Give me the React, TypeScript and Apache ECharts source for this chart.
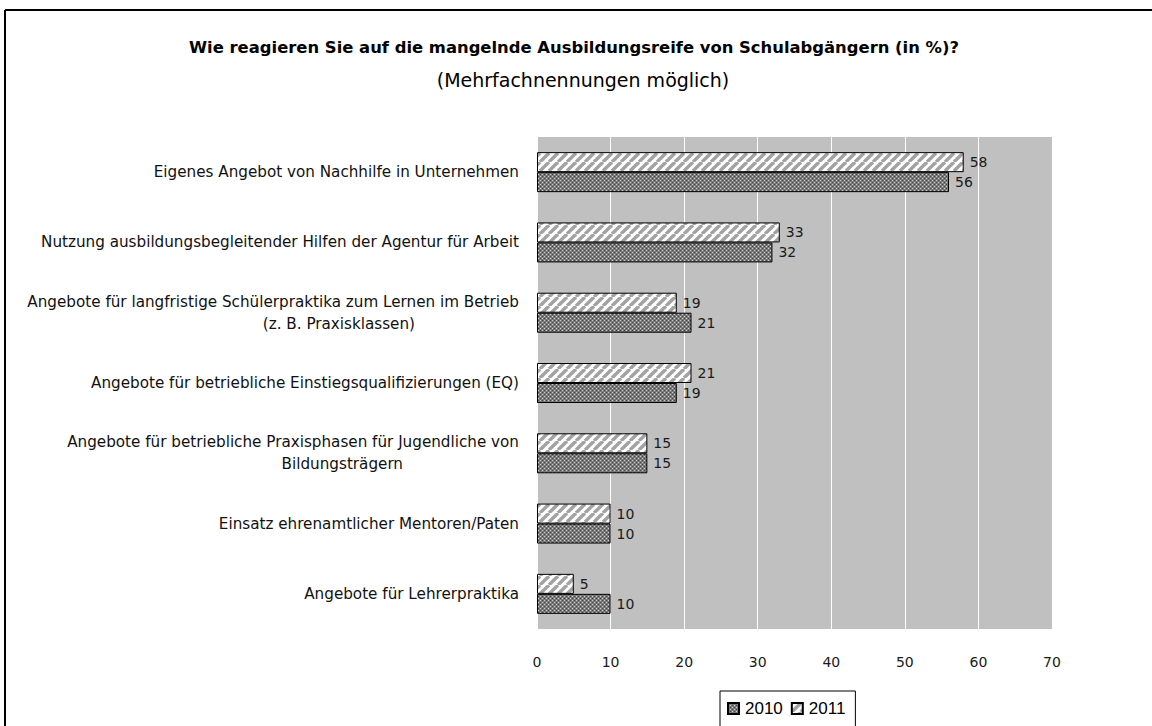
import React, { useEffect, useRef } from "react";
import * as echarts from "echarts";

const categories: string[] = [
  "Eigenes Angebot von Nachhilfe in Unternehmen",
  "Nutzung ausbildungsbegleitender Hilfen der Agentur für Arbeit",
  "Angebote für langfristige Schülerpraktika zum Lernen im Betrieb\n(z. B. Praxisklassen)",
  "Angebote für betriebliche Einstiegsqualifizierungen (EQ)",
  "Angebote für betriebliche Praxisphasen für Jugendliche von\nBildungsträgern",
  "Einsatz ehrenamtlicher Mentoren/Paten",
  "Angebote für Lehrerpraktika",
];
const values2010: number[] = [56, 32, 21, 19, 15, 10, 10];
const values2011: number[] = [58, 33, 19, 21, 15, 10, 5];
const seriesNames: string[] = ["2010", "2011"];
const titleText = "Wie reagieren Sie auf die mangelnde Ausbildungsreife von Schulabgängern (in %)?";
const subtitleText = "(Mehrfachnennungen möglich)";

function makeHatch(): HTMLCanvasElement {
  const s = 9;
  const c = document.createElement("canvas");
  c.width = s;
  c.height = s;
  const ctx = c.getContext("2d")!;
  ctx.fillStyle = "#ffffff";
  ctx.fillRect(0, 0, s, s);
  ctx.strokeStyle = "#a2a2a2";
  ctx.lineWidth = 3.4;
  for (const o of [-s, 0, s]) {
    ctx.beginPath();
    ctx.moveTo(o, s);
    ctx.lineTo(o + s, 0);
    ctx.stroke();
  }
  return c;
}

function makeDots(): HTMLCanvasElement {
  const s = 4;
  const c = document.createElement("canvas");
  c.width = s;
  c.height = s;
  const ctx = c.getContext("2d")!;
  ctx.fillStyle = "#7a7a7a";
  ctx.fillRect(0, 0, s, s);
  ctx.fillStyle = "#d0d0d0";
  ctx.fillRect(0, 0, 1, 1);
  ctx.fillRect(2, 2, 1, 1);
  ctx.fillStyle = "#444444";
  ctx.fillRect(2, 0, 1, 1);
  ctx.fillRect(0, 2, 1, 1);
  return c;
}

export default function App() {
  const ref = useRef<HTMLDivElement>(null);
  useEffect(() => {
    document.body.style.margin = "0";
    const chart = echarts.init(ref.current!, null, { renderer: "svg" });
    const hatch = makeHatch();
    const dots = makeDots();
    const labelFont = "DejaVu Sans";
    const catSize = 15.2;
    const option: any = {
      animation: false,
      backgroundColor: "#ffffff",
      graphic: [
        { type: "line", shape: { x1: 5, y1: 10, x2: 1152, y2: 10 }, style: { stroke: "#000", lineWidth: 2 } },
        { type: "line", shape: { x1: 5, y1: 10, x2: 5, y2: 726 }, style: { stroke: "#000", lineWidth: 2 } },
        {
          type: "text", x: 574, y: 47,
          style: { text: titleText, font: "bold 16.4px 'DejaVu Sans'", fill: "#000", textAlign: "center", textVerticalAlign: "middle" },
        },
        {
          type: "text", x: 583, y: 80,
          style: { text: subtitleText, font: "19px 'DejaVu Sans'", fill: "#000", textAlign: "center", textVerticalAlign: "middle" },
        },
      ],
      grid: {
        left: 537, right: 100, top: 137, bottom: 97,
        show: true, backgroundColor: "#c0c0c0", borderWidth: 0,
      },
      legend: {
        data: seriesNames,
        left: 720, top: 691,
        itemWidth: 11, itemHeight: 11, itemGap: 8,
        padding: [9, 10, 30, 7],
        borderColor: "#000", borderWidth: 1,
        icon: "rect",
        textStyle: { fontFamily: "Liberation Sans", fontSize: 17, color: "#000", padding: [0, 0, 0, 1] },
      },
      xAxis: {
        type: "value", min: 0, max: 70, interval: 10,
        axisLine: { show: false }, axisTick: { show: false },
        splitLine: { show: true, lineStyle: { color: "#ffffff", width: 1 } },
        axisLabel: { color: "#1a1a1a", fontSize: 14, fontFamily: labelFont, margin: 26 },
      },
      yAxis: {
        type: "category", data: categories, inverse: true,
        axisLine: { show: false }, axisTick: { show: false },
        axisLabel: {
          margin: 18, color: "#111", fontSize: catSize, fontFamily: labelFont, lineHeight: 22,
          formatter: (v: string, idx: number) => {
            const parts = v.split("\n");
            if (parts.length === 1) return `{a|${parts[0]}}`;
            const st = idx === 2 ? "b" : "c";
            return `{a|${parts[0]}}\n{${st}|${parts[1]}}`;
          },
          rich: {
            a: { fontSize: catSize, fontFamily: labelFont, color: "#111", lineHeight: 22 },
            b: { fontSize: catSize, fontFamily: labelFont, color: "#111", lineHeight: 22, padding: [0, 104, 0, 0] },
            c: { fontSize: catSize, fontFamily: labelFont, color: "#111", lineHeight: 22, padding: [0, 116, 0, 0] },
          },
        },
      },
      series: [
        {
          name: seriesNames[1], type: "bar", data: values2011, barWidth: 20, barGap: "0%",
          itemStyle: { color: { image: hatch, repeat: "repeat", imageWidth: 9, imageHeight: 9 }, borderColor: "#000", borderWidth: 1 },
          label: { show: true, position: "right", distance: 6, color: "#1a1a1a", fontSize: 14, fontFamily: labelFont },
        },
        {
          name: seriesNames[0], type: "bar", data: values2010, barWidth: 20, barGap: "0%",
          itemStyle: { color: { image: dots, repeat: "repeat", imageWidth: 4, imageHeight: 4 }, borderColor: "#000", borderWidth: 1 },
          label: { show: true, position: "right", distance: 6, color: "#1a1a1a", fontSize: 14, fontFamily: labelFont },
        },
      ],
    };
    chart.setOption(option);
    return () => chart.dispose();
  }, []);
  return <div ref={ref} style={{ position: "absolute", left: 0, top: 0, width: 1152, height: 726 }} />;
}
